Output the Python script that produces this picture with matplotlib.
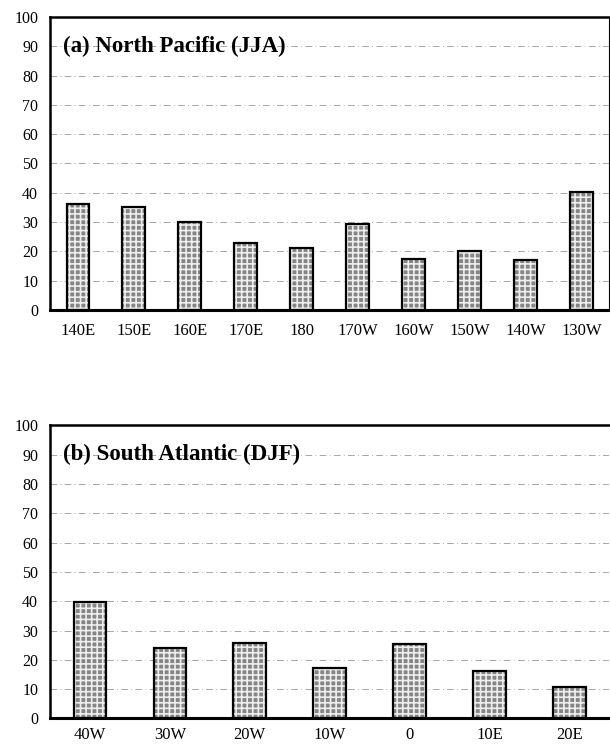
import numpy as np
import matplotlib
matplotlib.use('agg')
import matplotlib.pyplot as plt

# data
np_labels = ['140E', '150E', '160E', '170E', '180', '170W', '160W', '150W', '140W', '130W']
np_values = [36.2, 35, 29.9, 23, 21.2, 29.5, 17.4, 20.1, 17, 40.4]
sa_labels = ['40W', '30W', '20W', '10W', '0', '10E', '20E']
sa_values = [39.7, 24, 25.6, 17.3, 25.4, 16.1, 10.6]
yticks = [0, 10, 20, 30, 40, 50, 60, 70, 80, 90, 100]

plt.rcParams['font.family'] = ['Liberation Serif', 'DejaVu Serif']
plt.rcParams['hatch.linewidth'] = 1.2

fig = plt.figure(figsize=(6.1, 7.46), dpi=100)


def panel(ax, labels, values, title, right_spine, xpad):
    x = np.arange(len(labels))
    # grey dotted fill, then black outline on top
    ax.bar(x, values, width=0.41, color='#858585', edgecolor='#eeeeee',
           hatch='+++', linewidth=0, zorder=2)
    ax.bar(x, values, width=0.41, fill=False, edgecolor='black',
           linewidth=1.6, zorder=3)
    for y in yticks[1:-1]:
        ax.axhline(y, color='#999999', lw=0.6, ls=(0, (8, 4, 1, 4)), zorder=1)
    ax.set_xlim(-0.5, len(labels) - 0.5)
    ax.set_ylim(0, 100)
    ax.set_yticks(yticks)
    ax.set_xticks(x)
    ax.set_xticklabels(labels, fontsize=12)
    ax.tick_params(axis='both', length=0)
    ax.tick_params(axis='y', pad=8.5, labelsize=11.5)
    ax.tick_params(axis='x', pad=xpad)
    for s in ['left', 'top']:
        ax.spines[s].set_linewidth(1.8)
    ax.spines['bottom'].set_linewidth(2.2)
    if right_spine:
        ax.spines['right'].set_linewidth(0.8)
    else:
        ax.spines['right'].set_visible(False)
    ax.text(0.023, 0.9, title, transform=ax.transAxes, fontsize=16.5,
            fontweight='bold', va='center', ha='left')


ax1 = fig.add_axes([0.082, 0.5845, 0.917, 0.3928])
panel(ax1, np_labels, np_values, '(a) North Pacific (JJA)', True, 9.5)

ax2 = fig.add_axes([0.082, 0.0369, 0.917, 0.3928])
panel(ax2, sa_labels, sa_values, '(b) South Atlantic (DJF)', False, 6)

fig.savefig('out.png', dpi=100)
